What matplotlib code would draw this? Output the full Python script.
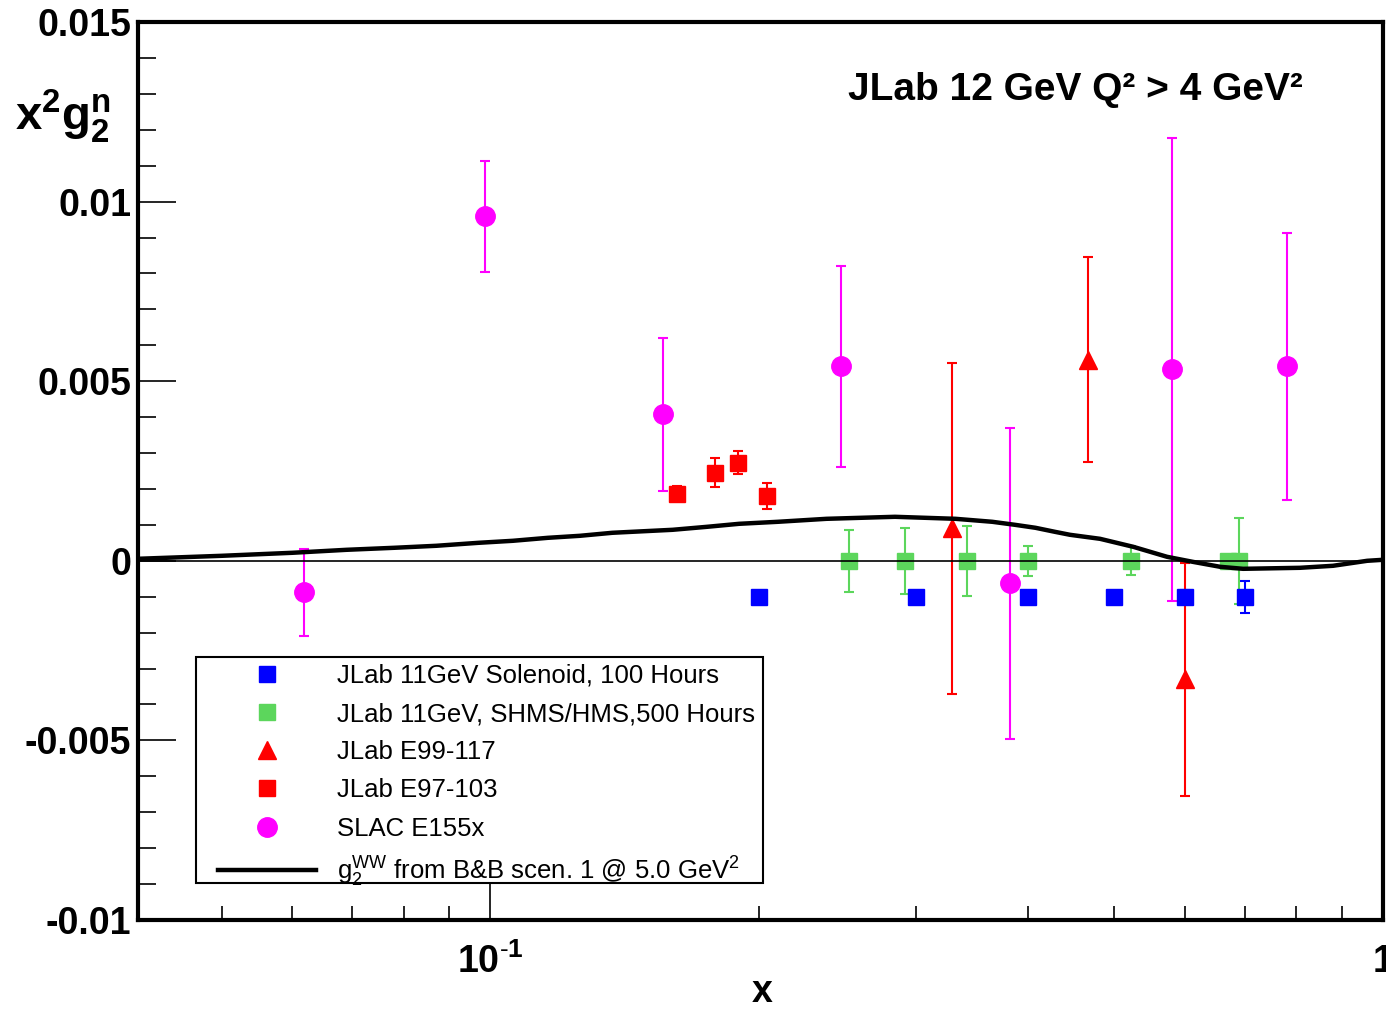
import matplotlib
matplotlib.use('Agg')
import matplotlib.pyplot as plt
from matplotlib.lines import Line2D
from matplotlib.patches import Rectangle
from matplotlib.ticker import FixedLocator, NullFormatter, MultipleLocator

plt.rcParams['font.family'] = ['Liberation Sans', 'DejaVu Sans']
plt.rcParams['mathtext.fontset'] = 'custom'
plt.rcParams['mathtext.rm'] = 'Liberation Sans'
plt.rcParams['mathtext.bf'] = 'Liberation Sans:bold'
plt.rcParams['mathtext.it'] = 'Liberation Sans:italic'

# JLab 11GeV Solenoid, 100 Hours (projected)
sol_x = [0.2, 0.3, 0.4, 0.5, 0.6, 0.7]
sol_y = [-0.001, -0.001, -0.001, -0.001, -0.001, -0.001]
sol_err = [0.0001, 0.0001, 0.0001, 0.0001, 0.0002, 0.00045]

# JLab 11GeV, SHMS/HMS, 500 Hours (projected)
shms_x = [0.252, 0.2915, 0.342, 0.400, 0.522, 0.671, 0.690]
shms_y = [0.0, 0.0, 0.0, 0.0, 0.0, 0.0, 0.0]
shms_err = [0.00086, 0.00092, 0.00097, 0.00041, 0.0004, 0.0001, 0.0012]

# JLab E99-117
e99_x = [0.329, 0.467, 0.600]
e99_y = [0.0009, 0.0056, -0.0033]
e99_err = [0.0046, 0.00285, 0.00325]

# JLab E97-103
e97_x = [0.162, 0.1786, 0.1895, 0.2043]
e97_y = [0.00187, 0.00245, 0.00273, 0.00181]
e97_err = [0.0002, 0.0004, 0.00032, 0.00036]

# SLAC E155x
slac_x = [0.0619, 0.0987, 0.1562, 0.247, 0.382, 0.580, 0.781]
slac_y = [-0.00088, 0.00959, 0.00408, 0.00541, -0.00063, 0.00533, 0.00541]
slac_err = [0.00122, 0.00155, 0.00213, 0.0028, 0.00433, 0.00645, 0.00372]

# g2 WW curve (B&B scen. 1 @ 5 GeV^2)
ww_x = [0.0403, 0.050, 0.060, 0.069, 0.078, 0.087, 0.097, 0.106, 0.116, 0.126,
        0.137, 0.160, 0.175, 0.190, 0.210, 0.238, 0.284, 0.332, 0.365, 0.387,
        0.408, 0.429, 0.446, 0.482, 0.525, 0.573, 0.612, 0.657, 0.697, 0.807,
        0.879, 0.960, 1.0]
ww_y = [0.000056, 0.000139, 0.000223, 0.000306, 0.000362, 0.000418, 0.000501,
        0.000557, 0.000640, 0.000696, 0.000780, 0.000863, 0.000947, 0.00103,
        0.001086, 0.001169, 0.001225, 0.001169, 0.001086, 0.001002, 0.000919,
        0.000807, 0.000724, 0.000612, 0.000390, 0.000111, -0.000028, -0.000167,
        -0.000223, -0.000195, -0.000139, 0.0, 0.000028]

blue = '#0000ff'
green = '#5cd65c'
red = '#ff0000'
magenta = '#ff00ff'

fig = plt.figure(figsize=(13.86, 10.09), dpi=100)
ax = fig.add_axes([138 / 1386, 89 / 1009, 1245 / 1386, 898 / 1009])
ax.set_xscale('log')
ax.set_xlim(0.0403, 1.0)
ax.set_ylim(-0.01, 0.015)

eb = dict(capsize=3.6, elinewidth=1.5, capthick=1.5, zorder=3, ls='none')
ax.errorbar(sol_x, sol_y, yerr=sol_err, fmt='s', color=blue, ms=12, **eb)
ax.errorbar(shms_x, shms_y, yerr=shms_err, fmt='s', color=green, ms=12, **eb)
ax.errorbar(e99_x, e99_y, yerr=e99_err, fmt='^', color=red, ms=13, **eb)
ax.errorbar(e97_x, e97_y, yerr=e97_err, fmt='s', color=red, ms=12, **eb)
ax.errorbar(slac_x, slac_y, yerr=slac_err, fmt='o', color=magenta, ms=14, **eb)

ax.axhline(0, color='black', lw=1.2, zorder=4)
ax.plot(ww_x, ww_y, color='black', lw=3.2, zorder=5)

# axes, ticks
for s in ax.spines.values():
    s.set_linewidth(3)
ax.set_xticks([0.1, 1.0])
ax.set_xticklabels([r'$\mathbf{10^{\text{-}1}}$', r'$\mathbf{1}$'])
ax.xaxis.set_minor_locator(FixedLocator([0.05, 0.06, 0.07, 0.08, 0.09, 0.2, 0.3,
                                         0.4, 0.5, 0.6, 0.7, 0.8, 0.9]))
ax.xaxis.set_minor_formatter(NullFormatter())
ax.set_yticks([-0.01, -0.005, 0, 0.005, 0.01, 0.015])
ax.set_yticklabels(['-0.01', '-0.005', '0', '0.005', '0.01', '0.015'])
ax.yaxis.set_minor_locator(MultipleLocator(0.001))
ax.tick_params(which='both', direction='in', top=False, right=False, width=1.2)
ax.tick_params(axis='x', which='major', length=26, pad=17, labelsize=27)
ax.tick_params(axis='x', which='minor', length=10)
ax.tick_params(axis='y', which='major', length=27, pad=5, labelsize=27)
ax.tick_params(axis='y', which='minor', length=13)
for lab in ax.get_yticklabels():
    lab.set_fontweight('bold')

fig.text(762 / 1386, 1 - 1002 / 1009, 'x', fontsize=27, fontweight='bold',
         ha='center', va='baseline')
fig.text(15 / 1386, 1 - 130 / 1009, r'$\mathbf{x^2g_2^n}$', fontsize=34,
         ha='left', va='baseline')
fig.text(848 / 1386, 1 - 100 / 1009, 'JLab 12 GeV Q² > 4 GeV²', fontsize=28,
         fontweight='bold', ha='left', va='baseline')

# legend
fig.patches.append(Rectangle((196 / 1386, 1 - 883 / 1009), 567 / 1386, 226 / 1009,
                             transform=fig.transFigure, facecolor='white',
                             edgecolor='black', lw=1.5, zorder=2))
handles = [
    Line2D([], [], ls='none', marker='s', color=blue, ms=12),
    Line2D([], [], ls='none', marker='s', color=green, ms=12),
    Line2D([], [], ls='none', marker='^', color=red, ms=13),
    Line2D([], [], ls='none', marker='s', color=red, ms=12),
    Line2D([], [], ls='none', marker='o', color=magenta, ms=14),
    Line2D([], [], color='black', lw=3.2),
]
labels = [
    'JLab 11GeV Solenoid, 100 Hours',
    'JLab 11GeV, SHMS/HMS,500 Hours',
    'JLab E99-117',
    'JLab E97-103',
    'SLAC E155x',
    r'$\mathregular{g_2^{WW}}$ from B&B scen. 1 @ 5.0 GeV$^\mathregular{2}$',
]
fig.legend(handles, labels, loc='upper left',
           bbox_to_anchor=(218 / 1386, 1 - 664 / 1009), frameon=False,
           borderpad=0, borderaxespad=0, fontsize=18.5, handlelength=3.8,
           handletextpad=0.85, labelspacing=0.55)

fig.savefig('out.png', dpi=100)
